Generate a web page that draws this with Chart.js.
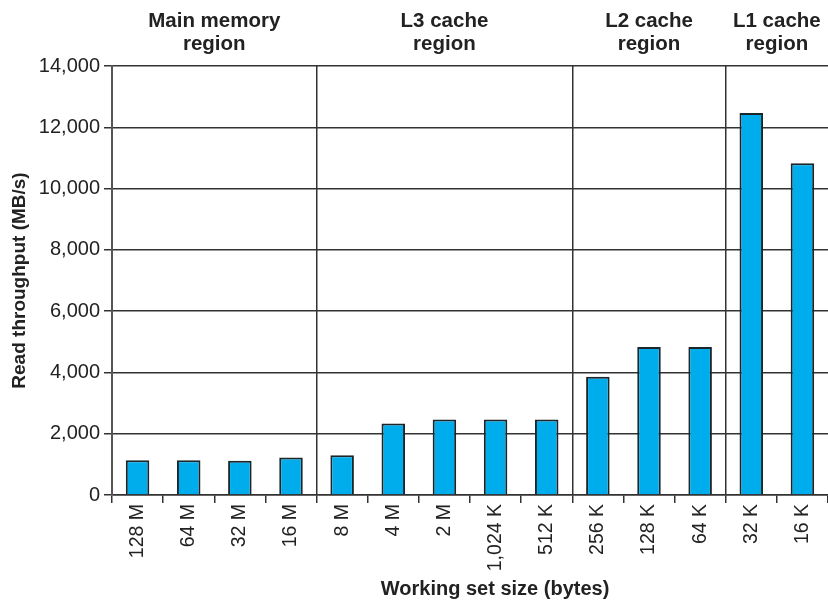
<!DOCTYPE html>
<html>
<head>
<meta charset="utf-8">
<script src="https://cdn.jsdelivr.net/npm/chart.js@4/dist/chart.umd.min.js"></script>
<style>
  html, body { margin: 0; padding: 0; background: #fff; }
  #wrap { width: 828px; height: 600px; }
</style>
</head>
<body>
<div id="wrap"><canvas id="MemMountain"></canvas></div>
<script>
// working set sizes, left to right
var sizes = ['128 M', '64 M', '32 M', '16 M', '8 M', '4 M', '2 M', '1,024 K', '512 K', '256 K', '128 K', '64 K', '32 K', '16 K'];
// read throughput in MB/s
var throughput = [1130, 1130, 1120, 1220, 1300, 2330, 2460, 2460, 2460, 3860, 4830, 4830, 12470, 10830];
// regions: label lines and first category index of each
var regionNames = [['Main memory', 'region'], ['L3 cache', 'region'], ['L2 cache', 'region'], ['L1 cache', 'region']];
var regionStarts = [0, 4, 9, 12];
var yTicks = [0, 2000, 4000, 6000, 8000, 10000, 12000, 14000];

var fontFamily = "'Liberation Sans', Arial, Helvetica, sans-serif";
var ink = '#333';

var regionPlugin = {
    id: 'regions',
    afterDraw: function (chart) {
        var ctx = chart.ctx;
        var xs = chart.scales.x;
        var area = chart.chartArea;
        ctx.save();
        ctx.fillStyle = '#222';
        ctx.textAlign = 'center';
        ctx.textBaseline = 'alphabetic';
        ctx.font = 'bold 20.5px ' + fontFamily;
        for (var i = 0; i < regionNames.length; i++) {
            var left = xs.getPixelForValue(regionStarts[i] - 0.5);
            var right = i + 1 < regionStarts.length ? xs.getPixelForValue(regionStarts[i + 1] - 0.5) : area.right;
            var cx = (left + right) / 2;
            ctx.fillText(regionNames[i][0], cx, 27);
            ctx.fillText(regionNames[i][1], cx, 50);
        }
        // x axis title
        ctx.font = 'bold 20px ' + fontFamily;
        ctx.fillText('Working set size (bytes)', area.left + (area.right - area.left) * 0.535, 595);
        ctx.restore();
    }
};

new Chart(document.getElementById('MemMountain'), {
    type: 'bar',
    data: {
        labels: sizes,
        datasets: [
            {
                label: 'Read throughput',
                data: throughput,
                backgroundColor: '#00adec',
                borderColor: '#1c2529',
                borderWidth: 2,
                barPercentage: 0.46,
                categoryPercentage: 1
            }
        ]
    },
    options: {
        responsive: true,
        maintainAspectRatio: false,
        animation: false,
        layout: { padding: { top: 66, right: 0, bottom: 0, left: 0 } },
        plugins: {
            legend: { display: false },
            tooltip: { enabled: false }
        },
        scales: {
            x: {
                offset: true,
                afterFit: function (scale) { scale.height = 105; },
                grid: {
                    offset: true,
                    drawOnChartArea: true,
                    lineWidth: 1.5,
                    color: function (c) { return regionStarts.indexOf(c.index) > 0 ? ink : 'rgba(0,0,0,0)'; },
                    tickColor: ink,
                    tickLength: 8
                },
                border: { display: true, color: ink, width: 1.5 },
                ticks: {
                    minRotation: 90,
                    maxRotation: 90,
                    autoSkip: false,
                    padding: 1,
                    color: '#222',
                    font: { family: fontFamily, size: 19.5 }
                }
            },
            y: {
                min: 0,
                max: 14000,
                afterFit: function (scale) { scale.width = 112; },
                afterBuildTicks: function (scale) {
                    scale.ticks = yTicks.map(function (v) { return { value: v }; });
                },
                grid: {
                    color: ink,
                    lineWidth: 1.5,
                    tickLength: 8
                },
                border: { display: true, color: '#555', width: 2 },
                ticks: {
                    padding: 4,
                    color: '#222',
                    font: { family: fontFamily, size: 20 },
                    callback: function (v) { return v.toLocaleString('en-US'); }
                },
                title: {
                    display: true,
                    text: 'Read throughput (MB/s)',
                    color: '#222',
                    padding: { top: 8, bottom: 0 },
                    font: { family: fontFamily, size: 19, weight: 'bold' }
                }
            }
        }
    },
    plugins: [regionPlugin]
});
</script>
</body>
</html>
